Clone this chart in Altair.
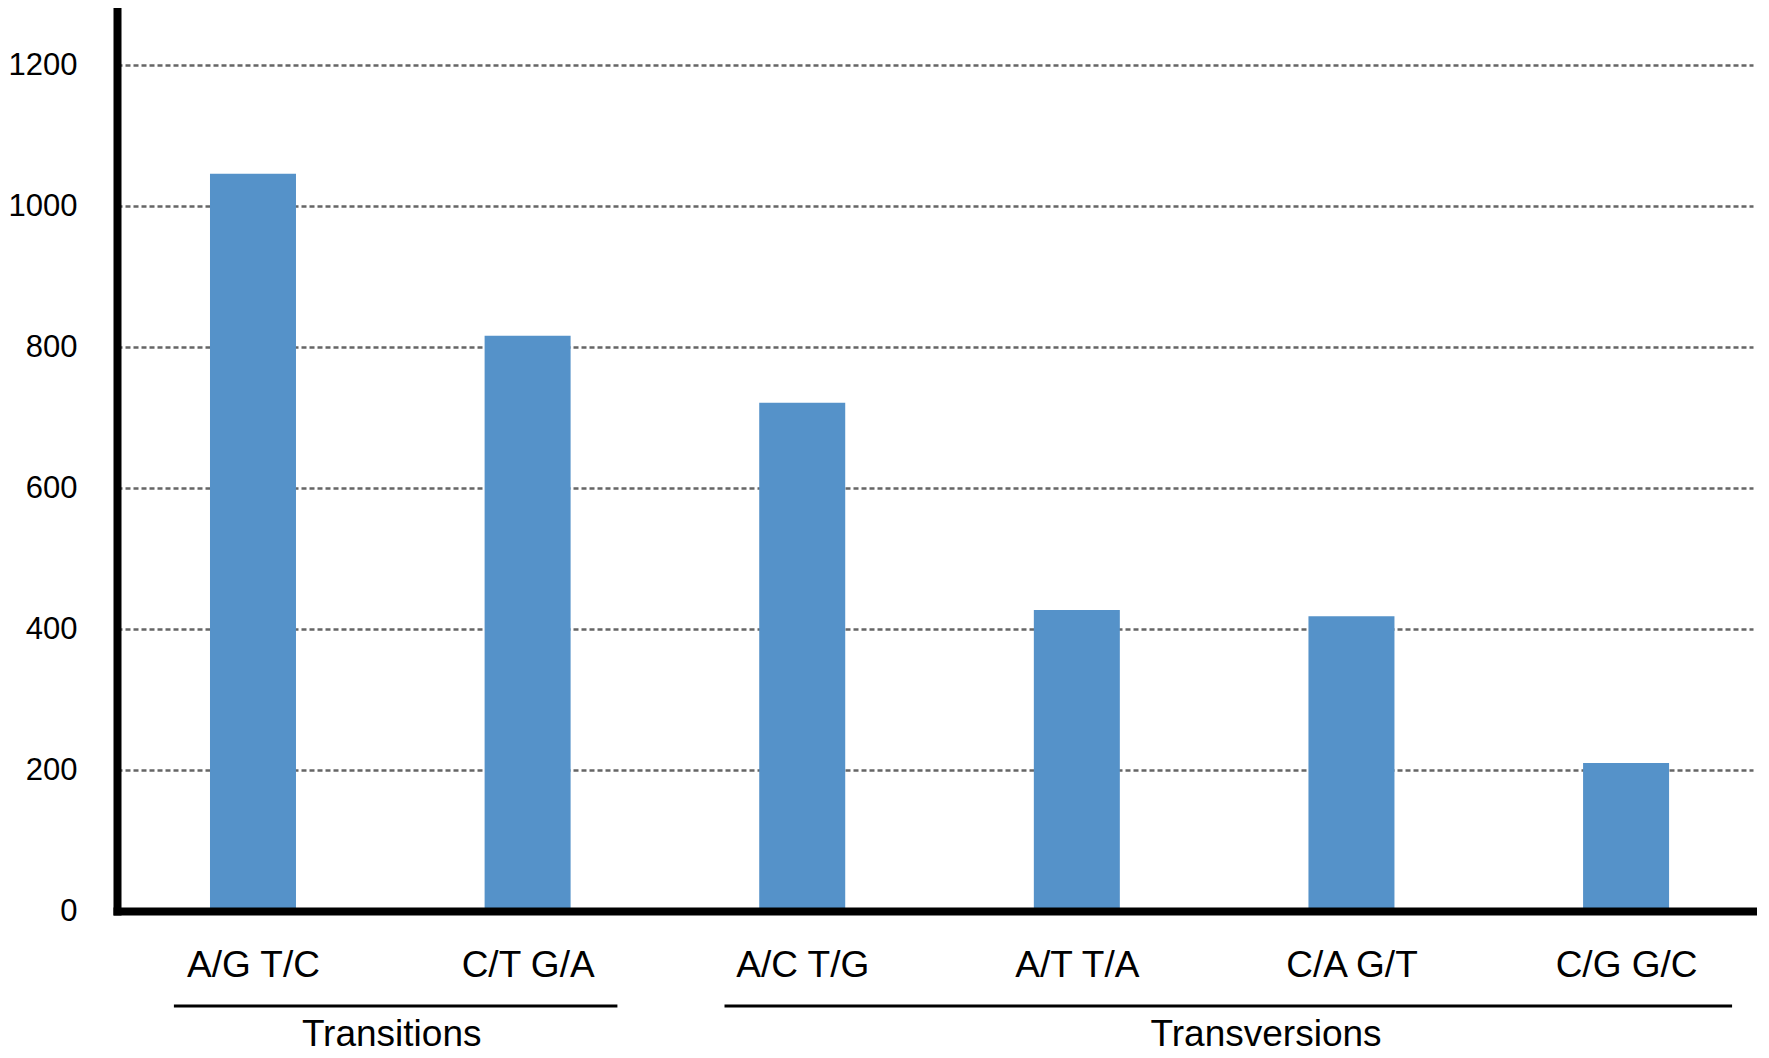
import json
import altair as alt
import pandas as pd

# ---- data ----
categories = ["A/G T/C", "C/T G/A", "A/C T/G", "A/T T/A", "C/A G/T", "C/G G/C"]
counts = [1046, 816, 721, 427, 418, 210]
positions = [0, 1, 2, 3, 4, 5]

groups = ["Transitions", "Transversions"]
group_start = [-0.288, 1.717]
group_end = [1.327, 5.386]
group_label_pos = [0.505, 3.689]

y_ticks = [0, 200, 400, 600, 800, 1000, 1200]

bars_df = pd.DataFrame({"pos": positions, "label": categories, "count": counts})
groups_df = pd.DataFrame({"group": groups, "start": group_start,
                          "end": group_end, "mid": group_label_pos})

label_expr = json.dumps(categories) + "[datum.value]"
FONT = "Liberation Sans"

x_scale = alt.Scale(domain=[-0.477, 5.444], nice=False, zero=False)
y_scale = alt.Scale(domain=[0, 1281], nice=False)

bars = alt.Chart(bars_df).mark_bar(size=86, color="#5592c9").encode(
    x=alt.X("pos:Q", scale=x_scale, title=None,
            axis=alt.Axis(values=positions, labelExpr=label_expr, grid=False,
                          ticks=False, labelFontSize=37, labelPadding=36,
                          domainWidth=8, domainColor="black", domainCap="square",
                          labelColor="black", labelFont=FONT, labelFlush=False,
                          labelOverlap=False, zindex=1)),
    y=alt.Y("count:Q", scale=y_scale, title=None,
            axis=alt.Axis(values=y_ticks, format="d", ticks=False, grid=True,
                          gridDash=[5, 3], gridColor="#666666", gridWidth=2.5,
                          labelFontSize=31, labelPadding=40, domainWidth=8,
                          domainColor="black", domainCap="square",
                          labelColor="black", labelFont=FONT)),
)

brackets = alt.Chart(groups_df).mark_rule(color="black", strokeWidth=3).encode(
    x=alt.X("start:Q", scale=x_scale, title=None),
    x2="end:Q",
    y=alt.value(998),
)

group_text = alt.Chart(groups_df).mark_text(
    fontSize=37, font=FONT, color="black", baseline="alphabetic", align="center"
).encode(
    x=alt.X("mid:Q", scale=x_scale, title=None),
    y=alt.value(1038),
    text="group:N",
)

chart = alt.layer(bars, brackets, group_text).properties(
    width=1636,
    height=903,
    padding={"left": 109, "top": 0, "right": 4, "bottom": 143},
    autosize=alt.AutoSizeParams(type="none"),
    background="white",
).configure_view(stroke=None)

chart.save("out.html", embed_options={"renderer": "svg", "actions": False})
